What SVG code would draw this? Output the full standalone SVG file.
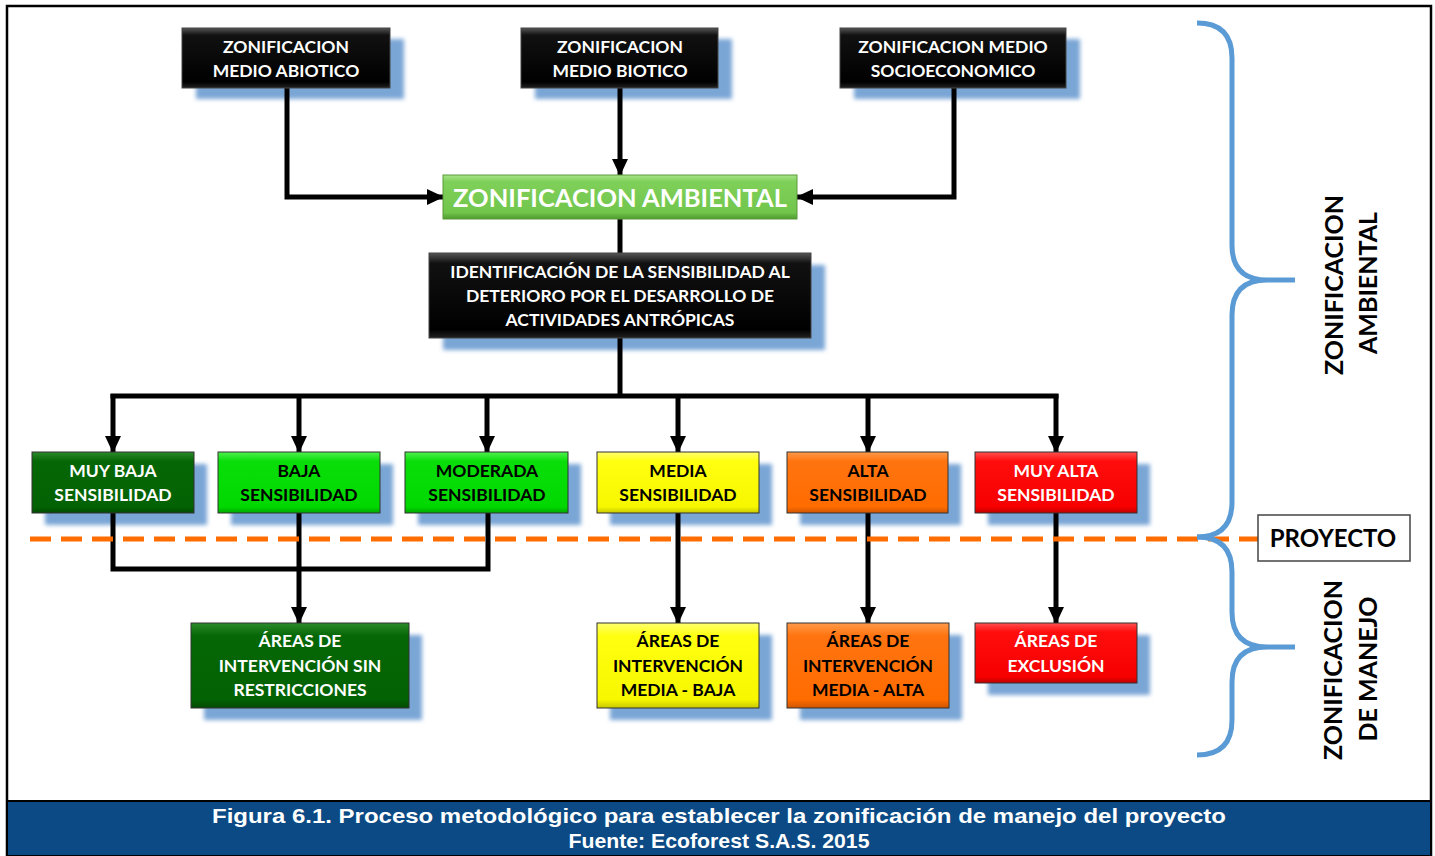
<svg xmlns="http://www.w3.org/2000/svg" width="1435" height="856" viewBox="0 0 1435 856">
<style>
.t{font-family:Lato,"Open Sans",sans-serif;font-weight:700;font-size:17.5px;text-anchor:middle}
.w{fill:#fff}
.k{fill:#000}
.ln{fill:none;stroke:#000;stroke-width:5}
.sh{fill:#7aa6d6;filter:url(#blur)}
.br{fill:none;stroke:#5b9bd5;stroke-width:5;stroke-linecap:butt}
.cap{font-family:"Liberation Sans",Arial,sans-serif;font-weight:700;font-size:21px;fill:#fff;text-anchor:middle}
</style>
<defs>
<filter id="blur" x="-10%" y="-10%" width="120%" height="130%"><feGaussianBlur stdDeviation="2"/></filter>
<marker id="ah" markerUnits="userSpaceOnUse" markerWidth="18" markerHeight="16" viewBox="0 0 18 16" refX="16" refY="8" orient="auto"><path d="M0,0 L17,8 L0,16 Z" fill="#000"/></marker>
<linearGradient id="gBlack" x1="0" y1="0" x2="0" y2="1"><stop offset="0" stop-color="#555"/><stop offset="0.12" stop-color="#111"/><stop offset="0.9" stop-color="#000"/><stop offset="1" stop-color="#222"/></linearGradient>
<linearGradient id="gAmb" x1="0" y1="0" x2="0" y2="1"><stop offset="0" stop-color="#a8e48a"/><stop offset="0.15" stop-color="#7fd05a"/><stop offset="0.85" stop-color="#72c64c"/><stop offset="1" stop-color="#4f9a30"/></linearGradient>
<linearGradient id="gDk" x1="0" y1="0" x2="0" y2="1"><stop offset="0" stop-color="#2b8a2b"/><stop offset="0.15" stop-color="#066706"/><stop offset="0.9" stop-color="#036203"/><stop offset="1" stop-color="#024a02"/></linearGradient>
<linearGradient id="gGr" x1="0" y1="0" x2="0" y2="1"><stop offset="0" stop-color="#4ff04f"/><stop offset="0.15" stop-color="#0ade0a"/><stop offset="0.9" stop-color="#00d800"/><stop offset="1" stop-color="#00a800"/></linearGradient>
<linearGradient id="gYe" x1="0" y1="0" x2="0" y2="1"><stop offset="0" stop-color="#ffff70"/><stop offset="0.15" stop-color="#ffff10"/><stop offset="0.9" stop-color="#f7f700"/><stop offset="1" stop-color="#c8c800"/></linearGradient>
<linearGradient id="gOr" x1="0" y1="0" x2="0" y2="1"><stop offset="0" stop-color="#ff9a4a"/><stop offset="0.15" stop-color="#ff7410"/><stop offset="0.9" stop-color="#ff6c00"/><stop offset="1" stop-color="#d05500"/></linearGradient>
<linearGradient id="gRe" x1="0" y1="0" x2="0" y2="1"><stop offset="0" stop-color="#ff5050"/><stop offset="0.15" stop-color="#ff0d0d"/><stop offset="0.9" stop-color="#f60000"/><stop offset="1" stop-color="#c00000"/></linearGradient>
</defs>
<rect x="0" y="0" width="1435" height="856" fill="#fff"/>
<rect x="7" y="6" width="1424" height="849" fill="none" stroke="#000" stroke-width="2.5"/>

<!-- shadows -->
<g id="shadows">
<rect class="sh" x="196" y="39" width="208" height="60"/>
<rect class="sh" x="535" y="39" width="197" height="60"/>
<rect class="sh" x="854" y="39" width="226" height="60"/>
<rect class="sh" x="443" y="265" width="382" height="85"/>
<rect class="sh" x="45" y="464" width="162" height="61"/>
<rect class="sh" x="231" y="464" width="162" height="61"/>
<rect class="sh" x="418" y="464" width="163" height="61"/>
<rect class="sh" x="610" y="464" width="162" height="61"/>
<rect class="sh" x="800" y="464" width="161" height="61"/>
<rect class="sh" x="988" y="464" width="162" height="61"/>
<rect class="sh" x="204" y="635" width="218" height="85"/>
<rect class="sh" x="610" y="635" width="162" height="85"/>
<rect class="sh" x="800" y="635" width="162" height="85"/>
<rect class="sh" x="988" y="635" width="162" height="60"/>
</g>

<!-- connectors -->
<g id="connectors">
<path class="ln" d="M287,88 V197 H443" marker-end="url(#ah)"/>
<path class="ln" d="M620,88 V175" marker-end="url(#ah)"/>
<path class="ln" d="M954,88 V197 H797" marker-end="url(#ah)"/>
<path class="ln" d="M620,219 V253"/>
<path class="ln" d="M620,338 V396"/>
<path class="ln" d="M110.5,396 H1058.5"/>
<path class="ln" d="M113,394 V452" marker-end="url(#ah)"/>
<path class="ln" d="M299,394 V452" marker-end="url(#ah)"/>
<path class="ln" d="M487,394 V452" marker-end="url(#ah)"/>
<path class="ln" d="M678,394 V452" marker-end="url(#ah)"/>
<path class="ln" d="M868,394 V452" marker-end="url(#ah)"/>
<path class="ln" d="M1056,394 V452" marker-end="url(#ah)"/>
<path class="ln" d="M113,513 V569 H488 V513"/>
<path class="ln" d="M299,513 V623" marker-end="url(#ah)"/>
<path class="ln" d="M678,513 V623" marker-end="url(#ah)"/>
<path class="ln" d="M868,513 V623" marker-end="url(#ah)"/>
<path class="ln" d="M1056,513 V623" marker-end="url(#ah)"/>
</g>

<!-- dashed project line -->
<line x1="30" y1="539" x2="1258" y2="539" stroke="#ff6d00" stroke-width="5" stroke-dasharray="21 10"/>

<g id="n-abiotico">
<rect x="182" y="28" width="208" height="60" fill="url(#gBlack)" stroke="#444" stroke-width="1"/>
<text class="t w" x="286" y="53">ZONIFICACION</text>
<text class="t w" x="286" y="77">MEDIO ABIOTICO</text>
</g>
<g id="n-biotico">
<rect x="521" y="28" width="197" height="60" fill="url(#gBlack)" stroke="#444" stroke-width="1"/>
<text class="t w" x="620" y="53">ZONIFICACION</text>
<text class="t w" x="620" y="77">MEDIO BIOTICO</text>
</g>
<g id="n-socio">
<rect x="840" y="28" width="226" height="60" fill="url(#gBlack)" stroke="#444" stroke-width="1"/>
<text class="t w" x="953" y="53">ZONIFICACION MEDIO</text>
<text class="t w" x="953" y="77">SOCIOECONOMICO</text>
</g>
<g id="n-ambiental">
<rect x="443" y="175" width="354" height="44" fill="url(#gAmb)" stroke="#5a9a3a" stroke-width="1"/>
<text class="t w" x="620" y="207" style="font-size:25.5px">ZONIFICACION AMBIENTAL</text>
</g>
<g id="n-identificacion">
<rect x="429" y="253" width="382" height="85" fill="url(#gBlack)" stroke="#444" stroke-width="1"/>
<text class="t w" x="620" y="278">IDENTIFICACIÓN DE LA SENSIBILIDAD AL</text>
<text class="t w" x="620" y="302">DETERIORO POR EL DESARROLLO DE</text>
<text class="t w" x="620" y="326">ACTIVIDADES ANTRÓPICAS</text>
</g>

<g id="n-muybaja">
<rect x="32" y="452" width="162" height="61" fill="url(#gDk)" stroke="#333" stroke-width="1"/>
<text class="t w" x="113" y="477">MUY BAJA</text>
<text class="t w" x="113" y="501">SENSIBILIDAD</text>
</g>
<g id="n-baja">
<rect x="218" y="452" width="162" height="61" fill="url(#gGr)" stroke="#333" stroke-width="1"/>
<text class="t k" x="299" y="477">BAJA</text>
<text class="t k" x="299" y="501">SENSIBILIDAD</text>
</g>
<g id="n-moderada">
<rect x="405" y="452" width="163" height="61" fill="url(#gGr)" stroke="#333" stroke-width="1"/>
<text class="t k" x="487" y="477">MODERADA</text>
<text class="t k" x="487" y="501">SENSIBILIDAD</text>
</g>
<g id="n-media">
<rect x="597" y="452" width="162" height="61" fill="url(#gYe)" stroke="#333" stroke-width="1"/>
<text class="t k" x="678" y="477">MEDIA</text>
<text class="t k" x="678" y="501">SENSIBILIDAD</text>
</g>
<g id="n-alta">
<rect x="787" y="452" width="161" height="61" fill="url(#gOr)" stroke="#333" stroke-width="1"/>
<text class="t k" x="868" y="477">ALTA</text>
<text class="t k" x="868" y="501">SENSIBILIDAD</text>
</g>
<g id="n-muyalta">
<rect x="975" y="452" width="162" height="61" fill="url(#gRe)" stroke="#333" stroke-width="1"/>
<text class="t w" x="1056" y="477">MUY ALTA</text>
<text class="t w" x="1056" y="501">SENSIBILIDAD</text>
</g>

<g id="n-sinrestricciones">
<rect x="191" y="623" width="218" height="85" fill="url(#gDk)" stroke="#333" stroke-width="1"/>
<text class="t w" x="300" y="647">ÁREAS DE</text>
<text class="t w" x="300" y="672">INTERVENCIÓN SIN</text>
<text class="t w" x="300" y="696">RESTRICCIONES</text>
</g>
<g id="n-mediabaja">
<rect x="597" y="623" width="162" height="85" fill="url(#gYe)" stroke="#333" stroke-width="1"/>
<text class="t k" x="678" y="647">ÁREAS DE</text>
<text class="t k" x="678" y="672">INTERVENCIÓN</text>
<text class="t k" x="678" y="696">MEDIA - BAJA</text>
</g>
<g id="n-mediaalta">
<rect x="787" y="623" width="162" height="85" fill="url(#gOr)" stroke="#333" stroke-width="1"/>
<text class="t k" x="868" y="647">ÁREAS DE</text>
<text class="t k" x="868" y="672">INTERVENCIÓN</text>
<text class="t k" x="868" y="696">MEDIA - ALTA</text>
</g>
<g id="n-exclusion">
<rect x="975" y="623" width="162" height="60" fill="url(#gRe)" stroke="#333" stroke-width="1"/>
<text class="t w" x="1056" y="647">ÁREAS DE</text>
<text class="t w" x="1056" y="672">EXCLUSIÓN</text>
</g>

<!-- braces -->
<g id="braces">
<path class="br" d="M1197,23 Q1232,23 1232,58 L1232,245 Q1232,280 1267,280 L1295,280 M1267,280 Q1232,280 1232,315 L1232,502 Q1232,537 1197,537"/>
<path class="br" d="M1197,537 Q1232,537 1232,572 L1232,612 Q1232,647 1267,647 L1295,647 M1267,647 Q1232,647 1232,682 L1232,720 Q1232,755 1197,755"/>
</g>

<g id="n-proyecto">
<rect x="1258" y="515" width="152" height="46" fill="#fff" stroke="#444" stroke-width="1.5"/>
<text class="t k" x="1333" y="547" style="font-size:24px">PROYECTO</text>
</g>

<g id="lbl-ambiental" class="t k" style="font-size:25px">
<text transform="translate(1343,285) rotate(-90)">ZONIFICACION</text>
<text transform="translate(1377,283) rotate(-90)">AMBIENTAL</text>
</g>
<g id="lbl-manejo" class="t k" style="font-size:25px">
<text transform="translate(1342,670) rotate(-90)">ZONIFICACION</text>
<text transform="translate(1377,669) rotate(-90)">DE MANEJO</text>
</g>

<g id="caption">
<rect x="7" y="801" width="1424" height="55" fill="#0b4a84" stroke="#000" stroke-width="2"/>
<text class="cap" x="719" y="823" textLength="1014" lengthAdjust="spacingAndGlyphs">Figura 6.1. Proceso metodológico para establecer la zonificación de manejo del proyecto</text>
<text class="cap" x="719" y="848" textLength="301" lengthAdjust="spacingAndGlyphs">Fuente: Ecoforest S.A.S. 2015</text>
</g>
</svg>
